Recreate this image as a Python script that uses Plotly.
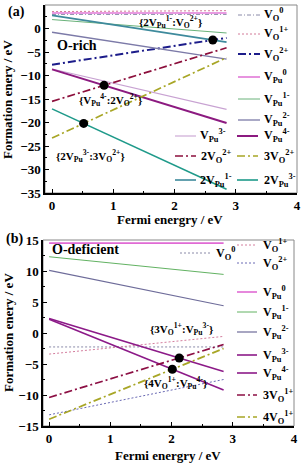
import plotly.graph_objects as go

W, H = 301, 463
FONT = "Liberation Serif"

# ---------------- data -----------------
ef = [0.0, 2.85]   # Fermi energy end points (eV)

# Panel (a) O-rich : formation energy at EF=0 and at EF=2.85
names_a = ["V<sub>O</sub><sup>0</sup>", "V<sub>O</sub><sup>1+</sup>", "V<sub>O</sub><sup>2+</sup>",
           "V<sub>Pu</sub><sup>0</sup>", "V<sub>Pu</sub><sup>1-</sup>", "V<sub>Pu</sub><sup>2-</sup>",
           "V<sub>Pu</sub><sup>3-</sup>", "V<sub>Pu</sub><sup>4-</sup>", "2V<sub>O</sub><sup>2+</sup>",
           "3V<sub>O</sub><sup>2+</sup>", "2V<sub>Pu</sub><sup>1-</sup>", "2V<sub>Pu</sub><sup>3-</sup>"]
start_a = [3.0, 3.6, -7.7, 3.3, 1.9, -0.8, -8.6, -8.7, -15.5, -23.3, 2.8, -17.1]
end_a = [3.0, 3.8, -2.0, 3.3, -0.95, -6.5, -17.2, -20.1, -4.1, -6.2, -2.9, -34.2]
colors_a = ["#8a8aa8", "#d27a98", "#1c1c8a", "#e27ad8", "#6ab27a", "#7c7aa8",
            "#c8a2d2", "#8c1a80", "#8c0f3c", "#a8a626", "#3e8a9c", "#1f9a8a"]
widths_a = [1, 1, 2, 1.6, 1, 1.3, 1.1, 2, 1.7, 1.7, 1.6, 1.6]
dash_a = ["4px,2px,1px,2px", "2px,2px", "8px,3px,2px,3px", "solid", "solid", "solid",
          "solid", "solid", "8px,3px,2px,3px", "8px,3px,2px,3px", "solid", "solid"]
# intersections to mark (pairs of series indexes) and their labels
cross_a = [(10, 2), (7, 8), (11, 9)]
labels_a = ["{2V<sub>Pu</sub><sup>1-</sup>:V<sub>O</sub><sup>2+</sup>}",
            "{V<sub>Pu</sub><sup>4-</sup>:2V<sub>O</sub><sup>2+</sup>}",
            "{2V<sub>Pu</sub><sup>3-</sup>:3V<sub>O</sub><sup>2+</sup>}"]

# Panel (b) O-deficient
names_b = ["V<sub>O</sub><sup>0</sup>", "V<sub>O</sub><sup>1+</sup>", "V<sub>O</sub><sup>2+</sup>",
           "V<sub>Pu</sub><sup>0</sup>", "V<sub>Pu</sub><sup>1-</sup>", "V<sub>Pu</sub><sup>2-</sup>",
           "V<sub>Pu</sub><sup>3-</sup>", "V<sub>Pu</sub><sup>4-</sup>", "3V<sub>O</sub><sup>1+</sup>",
           "4V<sub>O</sub><sup>1+</sup>"]
start_b = [-2.25, -3.4, -13.2, 14.5, 12.3, 10.1, 2.35, 2.2, -10.4, -13.9]
end_b = [-2.25, -0.55, -7.5, 14.5, 9.45, 4.4, -6.2, -9.2, -1.85, -2.5]
colors_b = ["#8a8aa8", "#d47e9e", "#6a6ab4", "#e06ad4", "#62b262", "#6e6c9a",
            "#8c1a88", "#8c1a88", "#8c0f44", "#a8a626"]
widths_b = [1, 1, 1, 1.6, 1, 1.2, 1.6, 1.6, 1.7, 1.7]
dash_b = ["2px,2px", "2px,2px", "2px,2px", "solid", "solid", "solid",
          "solid", "solid", "8px,3px,2px,3px", "8px,3px,2px,3px"]
cross_b = [(8, 6), (9, 7)]
labels_b = ["{3V<sub>O</sub><sup>1+</sup>:V<sub>Pu</sub><sup>3-</sup>}",
            "{4V<sub>O</sub><sup>1+</sup>:V<sub>Pu</sub><sup>4-</sup>}"]

# ---------------- helpers -----------------
def px(x):
    return x / W

def py(y):
    return 1 - y / H

def intersect(s1, e1, s2, e2):
    m1 = (e1 - s1) / (ef[1] - ef[0])
    m2 = (e2 - s2) / (ef[1] - ef[0])
    x = (s2 - s1) / (m1 - m2)
    return x, s1 + m1 * x

fig = go.Figure()

def add_panel(names, starts, ends, colors, widths, dashes, crosses, xa, ya):
    for n, s, e, c, w, d in zip(names, starts, ends, colors, widths, dashes):
        fig.add_trace(go.Scatter(x=ef, y=[s, e], mode="lines", name=n, showlegend=False,
                                 line=dict(color=c, width=w, dash=d), xaxis=xa, yaxis=ya,
                                 hoverinfo="skip"))
    xs, ys = [], []
    for i, j in crosses:
        x, y = intersect(starts[i], ends[i], starts[j], ends[j])
        xs.append(x)
        ys.append(y)
    fig.add_trace(go.Scatter(x=xs, y=ys, mode="markers", showlegend=False, xaxis=xa, yaxis=ya,
                             marker=dict(color="black", size=9), hoverinfo="skip"))
    return xs, ys

add_panel(names_a, start_a, end_a, colors_a, widths_a, dash_a, cross_a, "x", "y")
add_panel(names_b, start_b, end_b, colors_b, widths_b, dash_b, cross_b, "x2", "y2")

tickfont = dict(family=FONT, size=13, color="black", weight="bold")
axis_common = dict(showline=True, linecolor="black", linewidth=1.5, ticks="inside", ticklen=4,
                   tickwidth=1, tickcolor="black", showgrid=False, zeroline=False,
                   tickfont=tickfont, automargin=False)

fig.update_layout(
    width=W, height=H, margin=dict(l=0, r=0, t=0, b=0),
    paper_bgcolor="white", plot_bgcolor="white", showlegend=False, hovermode=False,
    xaxis=dict(domain=[px(45), px(297)], range=[-0.115, 4.0], dtick=1, tick0=0,
               minor=dict(dtick=0.5, ticks="inside", ticklen=2, tickcolor="black"),
               anchor="y", **axis_common),
    yaxis=dict(domain=[py(193), py(5)], range=[-35, 5], dtick=5,
               minor=dict(dtick=2.5, ticks="inside", ticklen=2, tickcolor="black"),
               anchor="x", **axis_common),
    xaxis2=dict(domain=[px(43), px(294)], range=[-0.1, 4.0], dtick=1, tick0=0,
                minor=dict(dtick=0.5, ticks="inside", ticklen=2, tickcolor="black"),
                anchor="y2", **axis_common),
    yaxis2=dict(domain=[py(426), py(240)], range=[-15, 15], dtick=5,
                minor=dict(dtick=2.5, ticks="inside", ticklen=2, tickcolor="black"),
                anchor="x2", **axis_common),
)

# gray frame around each plot
for xr, yr in [("x domain", "y domain"), ("x2 domain", "y2 domain")]:
    fig.add_shape(type="rect", xref=xr, yref=yr, x0=0, x1=1, y0=0, y1=1,
                  line=dict(color="#888888", width=1), layer="below")

ann = []

def text(x, y, t, size=12, xanchor="left", angle=0):
    ann.append(dict(x=px(x), y=py(y), xref="paper", yref="paper", text=t, showarrow=False,
                    xanchor=xanchor, yanchor="middle", textangle=angle,
                    font=dict(family=FONT, size=size, color="black", weight="bold")))

def legend_item(x0, x1, y, tx, name, color, width, dash):
    fig.add_shape(type="line", xref="paper", yref="paper", x0=px(x0), x1=px(x1), y0=py(y), y1=py(y),
                  line=dict(color=color, width=width, dash=dash))
    text(tx, y, name)

# panel (a) legend positions (pixels)
leg_a = [(238, 260, 15, 262), (238, 260, 34, 262), (238, 260, 54, 262), (238, 260, 77, 262),
         (238, 260, 99, 262), (238, 260, 120, 262), (175, 196, 136, 198), (237, 258, 136, 262),
         (175, 196, 156, 199), (237, 258, 156, 262), (175, 196, 180, 198), (237, 258, 180, 262)]
for (x0, x1, y, tx), n, c, w, d in zip(leg_a, names_a, colors_a, widths_a, dash_a):
    legend_item(x0, x1, y, tx, n, c, w, d)

leg_b = [(180, 212, 253, 214), (237, 257, 245, 261), (237, 257, 263, 261), (237, 257, 292, 261),
         (237, 257, 312, 261), (237, 257, 332, 261), (237, 257, 355, 261), (237, 257, 373, 261),
         (237, 257, 395, 261), (237, 257, 417, 261)]
for (x0, x1, y, tx), n, c, w, d in zip(leg_b, names_b, colors_b, widths_b, dash_b):
    legend_item(x0, x1, y, tx, n, c, w, d)

# label texts
text(170, 22, labels_a[0], size=11, xanchor="center")
text(111, 100, labels_a[1], size=11, xanchor="center")
text(90, 156, labels_a[2], size=11, xanchor="center")
text(181, 329, labels_b[0], size=11, xanchor="center")
text(175, 383, labels_b[1], size=11, xanchor="center")

text(55, 45, "O-rich", size=14)
text(50, 250, "O-deficient", size=14)
text(6, 12, "(a)", size=14)
text(4, 239, "(b)", size=14)

# axis titles
text(170, 219, "Fermi energry / eV", size=13, xanchor="center")
text(168, 455, "Fermi energry / eV", size=13, xanchor="center")
text(8, 100, "Formation enery / eV", size=13, xanchor="center", angle=-90)
text(8, 333, "Formation enery / eV", size=13, xanchor="center", angle=-90)

fig.update_layout(annotations=ann)
fig.write_html("out.html", config={"displayModeBar": False},
               post_script="document.body.style.margin='0';")
